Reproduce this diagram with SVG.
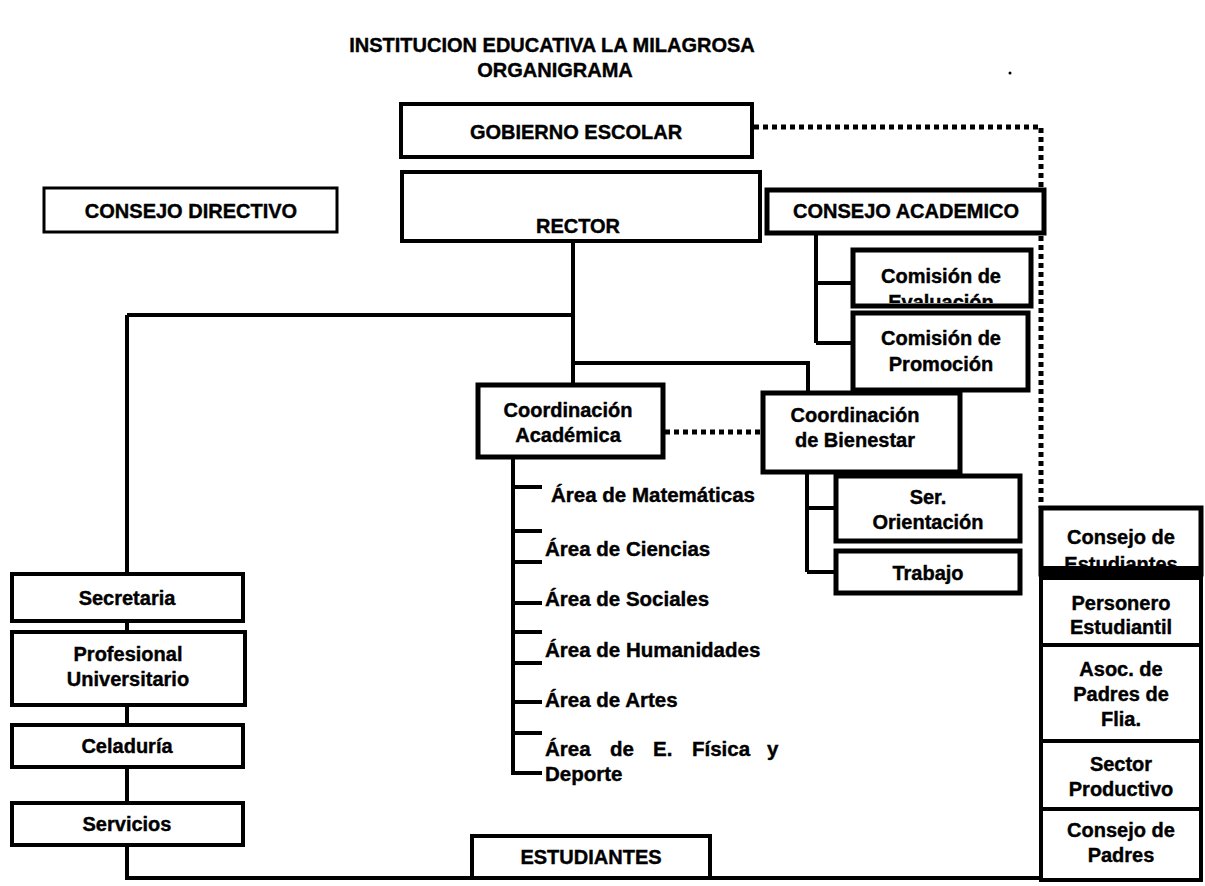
<svg xmlns="http://www.w3.org/2000/svg" width="1205" height="886" viewBox="0 0 1205 886">
<style>
.box{fill:#fff;stroke:#000;stroke-width:4}
.lbl{font-family:"Liberation Sans",Arial,sans-serif;font-weight:bold;font-size:20px;fill:#000;stroke:#000;stroke-width:0.4;text-anchor:middle}
.area{font-family:"Liberation Sans",Arial,sans-serif;font-weight:bold;font-size:20.5px;fill:#000;stroke:#000;stroke-width:0.4}
.ttl{font-family:"Liberation Sans",Arial,sans-serif;font-weight:bold;font-size:20px;fill:#000;stroke:#000;stroke-width:0.4;text-anchor:middle}
.conn{fill:none;stroke:#000;stroke-width:4}
.dot{fill:none;stroke:#000;stroke-width:5;stroke-dasharray:5 4}
</style>
<defs>
<clipPath id="clipEval"><rect x="853" y="250" width="178" height="53"/></clipPath>
<clipPath id="clipEst"><rect x="1041" y="508" width="160" height="58"/></clipPath>
</defs>
<rect width="1205" height="886" fill="#fff"/>
<g id="title">
<text class="ttl" x="552" y="52">INSTITUCION EDUCATIVA LA MILAGROSA</text>
<text class="ttl" x="555" y="77">ORGANIGRAMA</text>
<circle cx="1010" cy="73" r="1.5" fill="#000"/>
</g>
<g id="connectors">
<path class="conn" d="M573 241V385M127 315H573M573 363H808V393"/>
<path class="conn" d="M127 315V574M127 621V632M127 705V725M127 767V803M127 845V878H1041"/>
<path class="conn" d="M816 233V343M816 283H853M816 343H853"/>
<path class="conn" d="M807 472V572M807 508H836M807 572H836"/>
<path class="conn" d="M513 457V775M513 487H542M513 531H542M513 562H542M513 603H542M513 632H542M513 663H542M513 702H542M513 733H542M513 773H542"/>
<path class="dot" d="M754 127H1041V508"/>
<path class="dot" d="M665 432H763"/>
</g>
<g id="gobierno-escolar"><rect class="box" x="401" y="104" width="351" height="53"/><text class="lbl" x="576" y="139">GOBIERNO ESCOLAR</text></g>
<g id="rector"><rect class="box" x="402" y="172" width="358" height="69"/><text class="lbl" x="578" y="233">RECTOR</text></g>
<g id="consejo-academico"><rect class="box" x="767" y="190" width="277" height="43" style="stroke-width:5"/><text class="lbl" x="906" y="218">CONSEJO ACADEMICO</text></g>
<g id="consejo-directivo"><rect class="box" x="44" y="188" width="293" height="44" style="stroke-width:3"/><text class="lbl" x="191" y="218">CONSEJO DIRECTIVO</text></g>
<g id="comision-evaluacion"><rect class="box" x="853" y="250" width="178" height="56" style="stroke-width:5"/><g clip-path="url(#clipEval)"><text class="lbl" x="941" y="283">Comisión de</text><text class="lbl" x="941" y="309">Evaluación</text></g></g>
<g id="comision-promocion"><rect class="box" x="853" y="313" width="175" height="77" style="stroke-width:5"/><text class="lbl" x="941" y="345">Comisión de</text><text class="lbl" x="941" y="371">Promoción</text></g>
<g id="coordinacion-academica"><rect class="box" x="478" y="385" width="185" height="72" style="stroke-width:5"/><text class="lbl" x="568" y="417">Coordinación</text><text class="lbl" x="568" y="442">Académica</text></g>
<g id="coordinacion-bienestar"><rect class="box" x="763" y="393" width="197" height="79" style="stroke-width:5"/><text class="lbl" x="855" y="422">Coordinación</text><text class="lbl" x="855" y="447">de Bienestar</text></g>
<g id="ser-orientacion"><rect class="box" x="836" y="476" width="184" height="65" style="stroke-width:5"/><text class="lbl" x="928" y="504">Ser.</text><text class="lbl" x="928" y="529">Orientación</text></g>
<g id="trabajo"><rect class="box" x="836" y="551" width="184" height="42" style="stroke-width:5"/><text class="lbl" x="928" y="580">Trabajo</text></g>
<g id="areas">
<text class="area" x="551" y="502">Área de Matemáticas</text>
<text class="area" x="545" y="556">Área de Ciencias</text>
<text class="area" x="545" y="606">Área de Sociales</text>
<text class="area" x="545" y="657">Área de Humanidades</text>
<text class="area" x="545" y="707">Área de Artes</text>
<text class="area" y="756"><tspan x="545">Área</tspan><tspan x="610">de</tspan><tspan x="653">E.</tspan><tspan x="692">Física</tspan><tspan x="767">y</tspan></text>
<text class="area" x="545" y="781">Deporte</text>
</g>
<g id="consejo-estudiantes"><rect class="box" x="1041" y="508" width="160" height="66" style="stroke-width:5"/><g clip-path="url(#clipEst)"><text class="lbl" x="1121" y="544">Consejo de</text><text class="lbl" x="1121" y="571">Estudiantes</text></g><rect x="1039" y="566" width="164" height="12" fill="#000"/></g>
<g id="personero"><rect class="box" x="1041" y="578" width="160" height="67"/><text class="lbl" x="1121" y="610">Personero</text><text class="lbl" x="1121" y="634">Estudiantil</text></g>
<g id="asoc-padres"><rect class="box" x="1041" y="645" width="160" height="96"/><text class="lbl" x="1121" y="676">Asoc. de</text><text class="lbl" x="1121" y="701">Padres de</text><text class="lbl" x="1121" y="726">Flia.</text></g>
<g id="sector-productivo"><rect class="box" x="1041" y="741" width="160" height="68"/><text class="lbl" x="1121" y="771">Sector</text><text class="lbl" x="1121" y="796">Productivo</text></g>
<g id="consejo-padres"><rect class="box" x="1041" y="809" width="160" height="71"/><text class="lbl" x="1121" y="837">Consejo de</text><text class="lbl" x="1121" y="862">Padres</text></g>
<g id="secretaria"><rect class="box" x="12" y="574" width="231" height="47"/><text class="lbl" x="127" y="605">Secretaria</text></g>
<g id="profesional"><rect class="box" x="12" y="632" width="233" height="73"/><text class="lbl" x="128" y="661">Profesional</text><text class="lbl" x="128" y="686">Universitario</text></g>
<g id="celaduria"><rect class="box" x="12" y="725" width="231" height="42"/><text class="lbl" x="127" y="753">Celaduría</text></g>
<g id="servicios"><rect class="box" x="12" y="803" width="231" height="42"/><text class="lbl" x="127" y="831">Servicios</text></g>
<g id="estudiantes"><rect class="box" x="472" y="836" width="238" height="42"/><text class="lbl" x="591" y="864">ESTUDIANTES</text></g>
</svg>
